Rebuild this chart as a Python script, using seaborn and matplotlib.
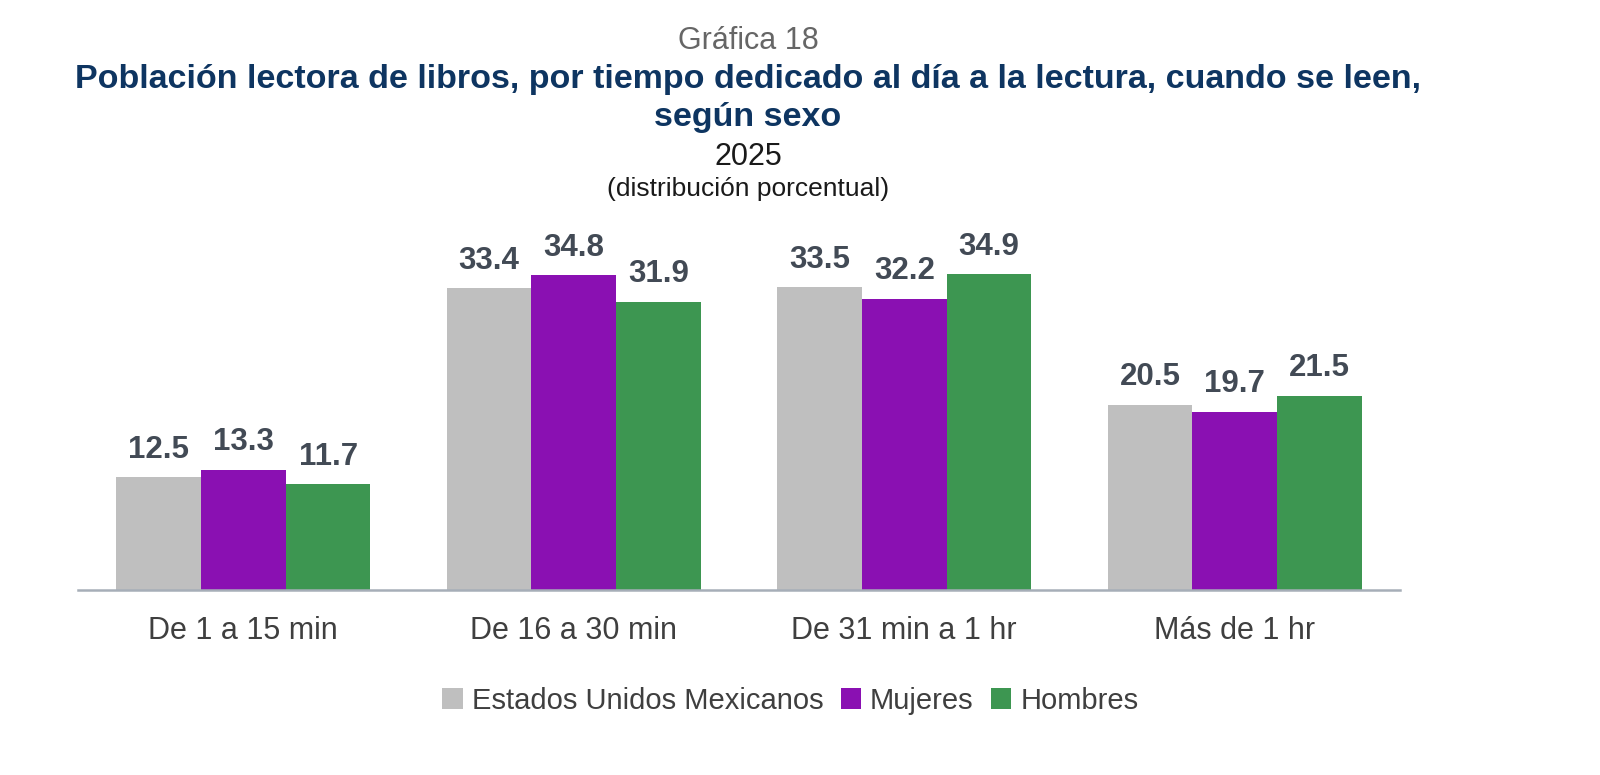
import matplotlib
matplotlib.use("Agg")
import matplotlib.pyplot as plt
import seaborn as sns
import pandas as pd
from matplotlib.patches import Patch

categories = ["De 1 a 15 min", "De 16 a 30 min", "De 31 min a 1 hr", "Más de 1 hr"]
series = ["Estados Unidos Mexicanos", "Mujeres", "Hombres"]
eum = [12.5, 33.4, 33.5, 20.5]
mujeres = [13.3, 34.8, 32.2, 19.7]
hombres = [11.7, 31.9, 34.9, 21.5]
colors = ["#BFBFBF", "#8A10B2", "#3D9651"]

rows = []
for s, vals in zip(series, [eum, mujeres, hombres]):
    for c, v in zip(categories, vals):
        rows.append({"cat": c, "serie": s, "valor": v})
df = pd.DataFrame(rows)

sns.set_theme(style="white")
plt.rcParams["font.family"] = ["Liberation Sans", "DejaVu Sans"]

fig = plt.figure(figsize=(16, 7.75), dpi=100)
ax = fig.add_axes([0.04875, 0.2387, 0.82625, 0.4666])

sns.barplot(data=df, x="cat", y="valor", hue="serie", order=categories,
            hue_order=series, palette=colors, width=0.77, saturation=1,
            edgecolor="none", legend=False, ax=ax)

ax.set_ylim(0, 40)
ax.set_xlim(-0.5, 3.5)
ax.set_xlabel("")
ax.set_ylabel("")
ax.set_yticks([])
for sp in ["top", "right", "left"]:
    ax.spines[sp].set_visible(False)
ax.spines["bottom"].set_color("#A6AEB8")
ax.spines["bottom"].set_linewidth(1.8)
ax.tick_params(axis="x", length=0, pad=19, labelsize=22, labelcolor="#3F3F3F")

for cont in ax.containers:
    ax.bar_label(cont, fmt="%.1f", padding=9, fontsize=22.5, fontweight="bold",
                 color="#424A55")

fig.text(0.4675, 0.947, "Gráfica 18", ha="center", va="center",
         fontsize=22, color="#666666")
fig.text(0.4675, 0.873, "Población lectora de libros, por tiempo dedicado al día a la lectura, cuando se leen,\nsegún sexo",
         ha="center", va="center", fontsize=24.5, fontweight="bold",
         color="#0E3561", linespacing=1.3)
fig.text(0.4675, 0.798, "2025", ha="center", va="center", fontsize=22,
         color="#1A1A1A")
fig.text(0.4675, 0.756, "(distribución porcentual)", ha="center", va="center",
         fontsize=19, color="#1A1A1A")

handles = [Patch(facecolor=c, edgecolor="none") for c in colors]
fig.legend(handles, series, loc="center", bbox_to_anchor=(0.494, 0.096),
           ncol=3, frameon=False, fontsize=21, handlelength=0.7,
           handleheight=0.7, handletextpad=0.3, columnspacing=0.6,
           labelcolor="#3F3F3F")

fig.savefig("out.png", dpi=100)
